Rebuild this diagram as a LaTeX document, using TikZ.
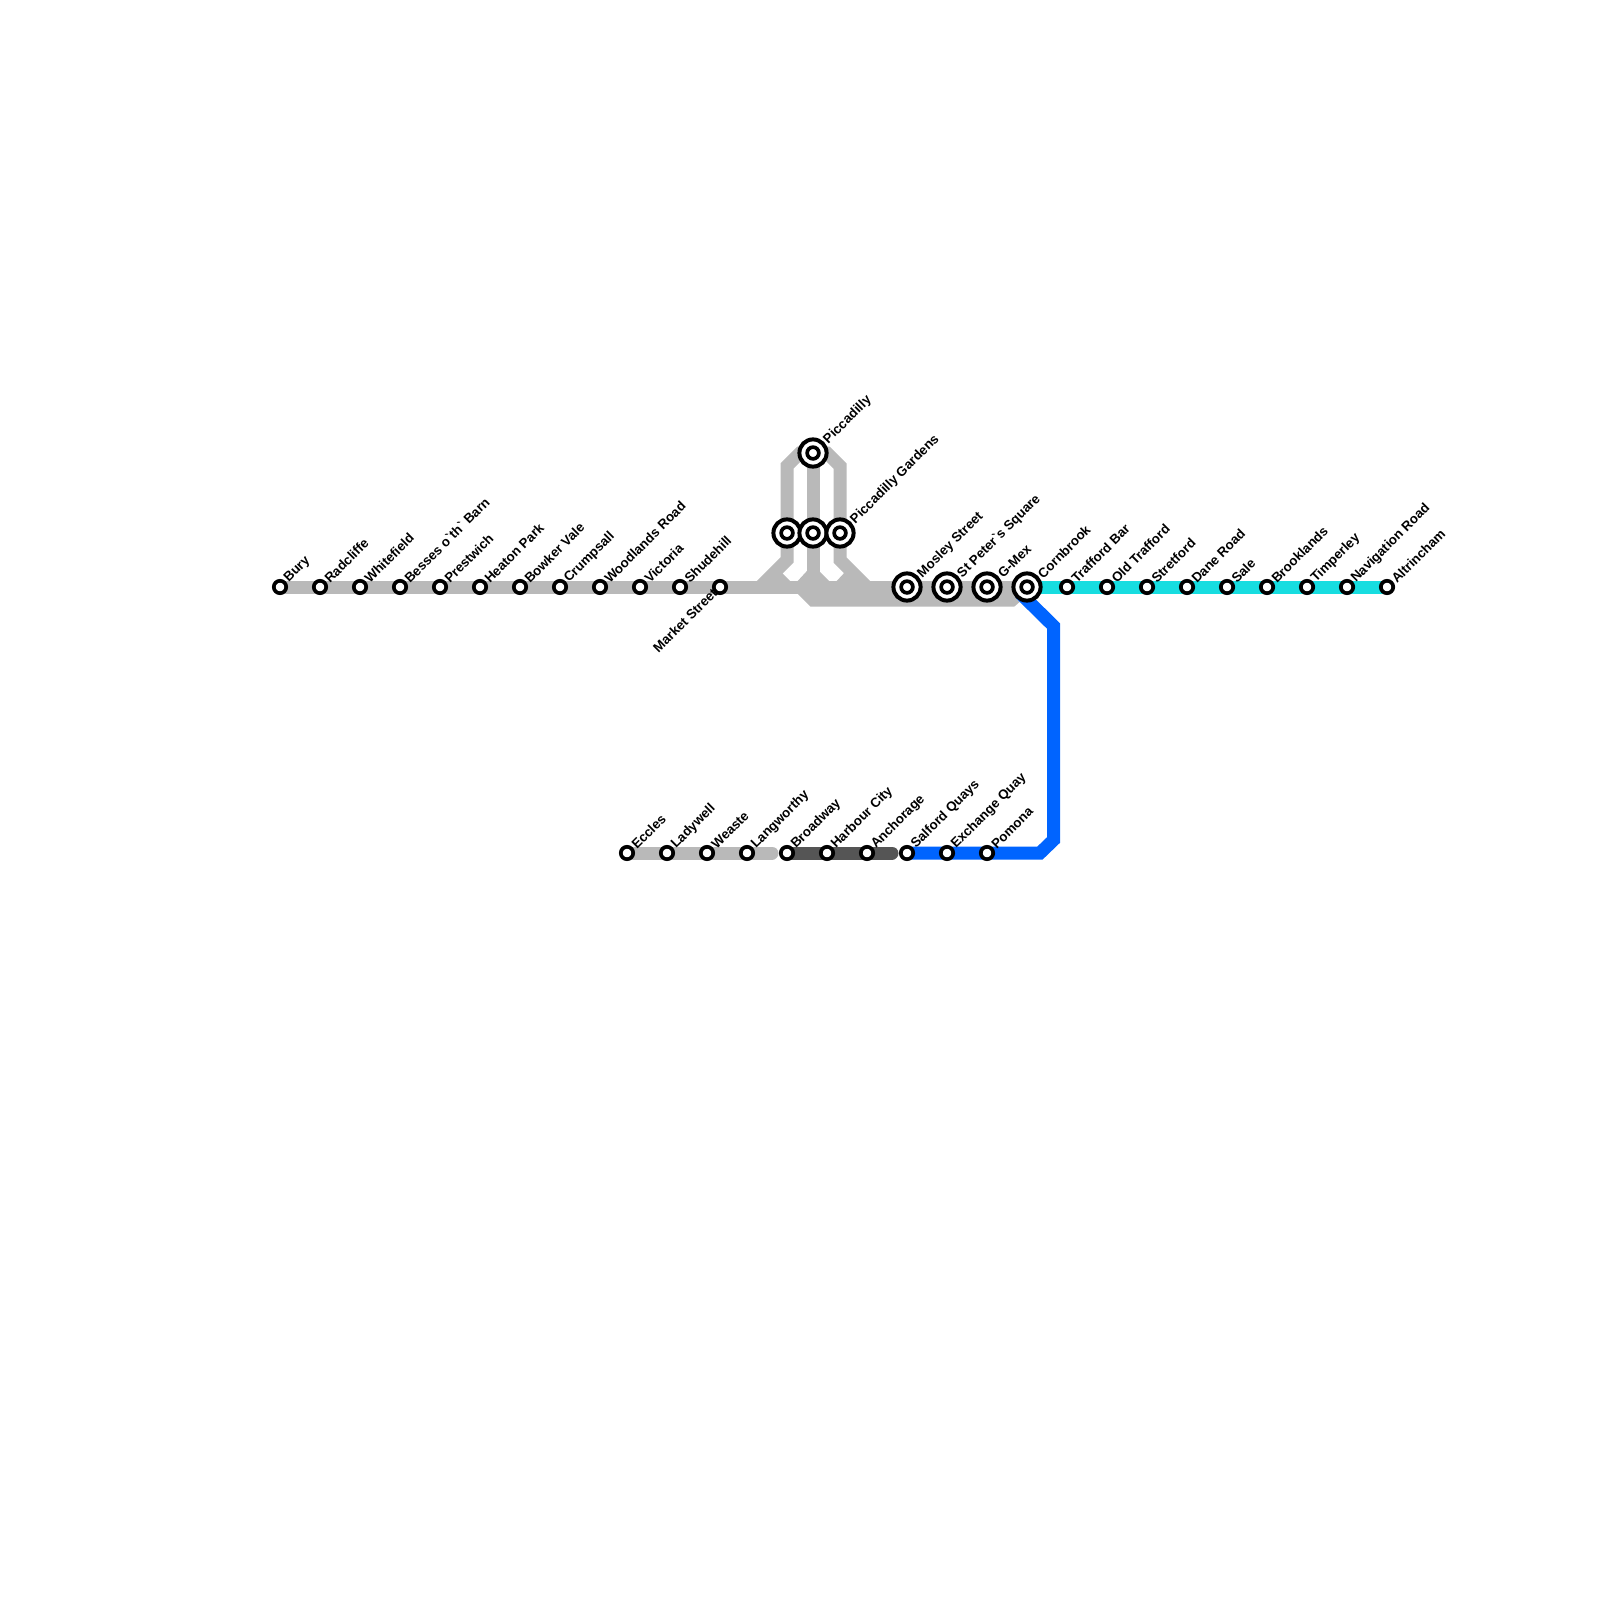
\documentclass[tikz,border=0pt]{standalone}
\usepackage{fontspec}
\setmainfont{Liberation Sans}[Ligatures=TeXOff]
\usetikzlibrary{backgrounds}

\definecolor{trackgrey}{HTML}{B9B9B9}
\definecolor{trackdark}{HTML}{555555}
\definecolor{trackcyan}{HTML}{17DDE0}
\definecolor{trackblue}{HTML}{0064FF}

\tikzset{
    stop/.style={circle, draw=black, fill=white, line width=1.85pt, inner sep=0pt, minimum size=6.2pt},
    hub/.style={circle, draw=black, fill=white, line width=2pt, inner sep=0pt, minimum size=13.6pt,
        path picture={\draw[black, line width=1.85pt] (path picture bounding box.center) circle (2.93pt);}},
    basetext/.style={rotate=45, inner sep=0pt, font=\bfseries\fontsize{6.65}{8}\selectfont, text=black},
    stopname/.style={basetext, anchor=west, xshift=1.6pt, yshift=-2.9pt},
    hubname/.style={basetext, anchor=west, xshift=.6pt, yshift=-.6pt},
    westname/.style={basetext, anchor=east, xshift=1.1pt, yshift=.5pt},
    track/.style={line width=6.5pt, line join=miter}
}

\begin{document}
\begin{tikzpicture}[x=.5pt, y=-.5pt]
    \useasboundingbox (0,0) rectangle (1600,1600);
    % upper row, west to east
    \node[stop, label={[stopname]90:Bury}] (bury) at (280,587) {};
    \node[stop, label={[stopname]90:Radcliffe}] (radcliffe) at (320,587) {};
    \node[stop, label={[stopname]90:Whitefield}] (whitefield) at (360,587) {};
    \node[stop, label={[stopname]90:Besses o`th` Barn}] (besses) at (400,587) {};
    \node[stop, label={[stopname]90:Prestwich}] (prestwich) at (440,587) {};
    \node[stop, label={[stopname]90:Heaton Park}] (heaton) at (480,587) {};
    \node[stop, label={[stopname]90:Bowker Vale}] (bowker) at (520,587) {};
    \node[stop, label={[stopname]90:Crumpsall}] (crumpsall) at (560,587) {};
    \node[stop, label={[stopname]90:Woodlands Road}] (woodlands) at (600,587) {};
    \node[stop, label={[stopname]90:Victoria}] (victoria) at (640,587) {};
    \node[stop, label={[stopname]90:Shudehill}] (shudehill) at (680,587) {};
    \node[stop, label={[westname]225:Market Street}] (market) at (720,587) {};
    % city centre
    \node[hub] (westhub) at (787,533) {};
    \node[hub] (midhub) at (813,533) {};
    \node[hub, label={[hubname]45:Piccadilly Gardens}] (gardens) at (840,533) {};
    \node[hub, label={[hubname]45:Piccadilly}] (piccadilly) at (813,453) {};
    \node[hub, label={[hubname]45:Mosley Street}] (mosley) at (907,587) {};
    \node[hub, label={[hubname]45:St Peter`s Square}] (peters) at (947,587) {};
    \node[hub, label={[hubname]45:G-Mex}] (gmex) at (987,587) {};
    \node[hub, label={[hubname]45:Cornbrook}] (cornbrook) at (1027,587) {};
    % towards the south
    \node[stop, label={[stopname]90:Trafford Bar}] (trafford) at (1067,587) {};
    \node[stop, label={[stopname]90:Old Trafford}] (oldtrafford) at (1107,587) {};
    \node[stop, label={[stopname]90:Stretford}] (stretford) at (1147,587) {};
    \node[stop, label={[stopname]90:Dane Road}] (dane) at (1187,587) {};
    \node[stop, label={[stopname]90:Sale}] (sale) at (1227,587) {};
    \node[stop, label={[stopname]90:Brooklands}] (brooklands) at (1267,587) {};
    \node[stop, label={[stopname]90:Timperley}] (timperley) at (1307,587) {};
    \node[stop, label={[stopname]90:Navigation Road}] (navigation) at (1347,587) {};
    \node[stop, label={[stopname]90:Altrincham}] (altrincham) at (1387,587) {};
    % lower row
    \node[stop, label={[stopname]90:Eccles}] (eccles) at (627,853) {};
    \node[stop, label={[stopname]90:Ladywell}] (ladywell) at (667,853) {};
    \node[stop, label={[stopname]90:Weaste}] (weaste) at (707,853) {};
    \node[stop, label={[stopname]90:Langworthy}] (langworthy) at (747,853) {};
    \node[stop, label={[stopname]90:Broadway}] (broadway) at (787,853) {};
    \node[stop, label={[stopname]90:Harbour City}] (harbour) at (827,853) {};
    \node[stop, label={[stopname]90:Anchorage}] (anchorage) at (867,853) {};
    \node[stop, label={[stopname]90:Salford Quays}] (salford) at (907,853) {};
    \node[stop, label={[stopname]90:Exchange Quay}] (exchange) at (947,853) {};
    \node[stop, label={[stopname]90:Pomona}] (pomona) at (987,853) {};
    % free ends of the tracks
    \coordinate (greyend) at (772,853);
    \coordinate (darkend) at (892,853);
    % tracks go under the stations
    \begin{scope}[on background layer]
        \draw[track, trackgrey] (bury.center) -- (cornbrook.center);
        \draw[track, trackgrey] (800,587) -- (813,600) -- (1012,600) -- (cornbrook.center);
        \draw[track, trackgrey] (760,587) -- (787,560) -- (westhub.center) -- (787,466) -- (800,453) -- (piccadilly.center);
        \draw[track, trackgrey] (801,587) -- (813,574) -- (826,587);
        \draw[track, trackgrey] (midhub.center) -- (piccadilly.center);
        \draw[track, trackgrey] (midhub.center) -- (813,574);
        \draw[track, trackgrey] (867,587) -- (840,560) -- (gardens.center) -- (840,466) -- (827,453) -- (piccadilly.center);
        \draw[track, trackgrey] (787,587) -- (773,573);
        \draw[track, trackgrey] (840,587) -- (853,573);
        \draw[track, trackcyan] (cornbrook.center) -- (altrincham.center);
        \draw[track, trackblue] (1020,593) -- (1053.5,626) -- (1053.5,840) -- (1040,853) -- (salford.center);
        \draw[track, trackgrey, line cap=round] (eccles.center) -- (greyend);
        \draw[track, trackdark, line cap=round] (broadway.center) -- (darkend);
    \end{scope}
\end{tikzpicture}
\end{document}
